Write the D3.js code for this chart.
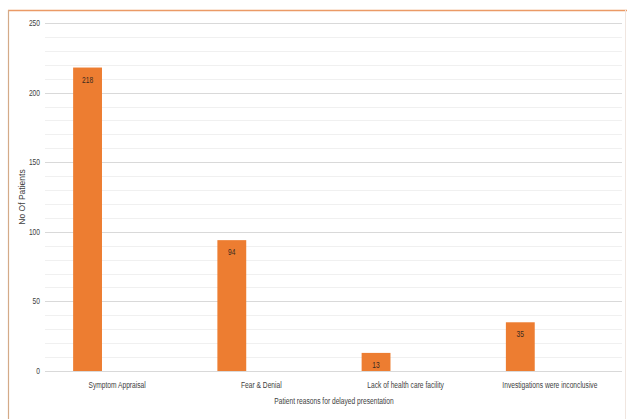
<!DOCTYPE html>
<html><head><meta charset="utf-8">
<script src="https://cdn.jsdelivr.net/npm/d3@7/dist/d3.min.js"></script>
<style>
body{margin:0;background:#fff;}
svg{display:block;}
text{font-family:"Liberation Sans","DejaVu Sans",sans-serif;}
</style></head>
<body>
<script>
const categories = ["Symptom Appraisal","Fear & Denial","Lack of health care facility","Investigations were inconclusive"];
const values = [218, 94, 13, 35];
const majorTicks = [0, 50, 100, 150, 200, 250];
const minorTicks = [10,20,30,40,60,70,80,90,110,120,130,140,160,170,180,190,210,220,230,240];

(function(){
const W = 627, H = 419;
const SX = 0.74; // narrow-font look
const svg = d3.select("body").append("svg").attr("width", W).attr("height", H);

svg.append("rect").attr("x",0).attr("y",0).attr("width",W).attr("height",H).attr("fill","#fff");
svg.append("line").attr("x1",8).attr("x2",W).attr("y1",10.5).attr("y2",10.5).attr("stroke","#eb9a66").attr("stroke-width",1.5);
svg.append("line").attr("x1",8.5).attr("x2",8.5).attr("y1",10).attr("y2",H).attr("stroke","#d4aa88").attr("stroke-width",1.2);
svg.append("line").attr("x1",625.5).attr("x2",625.5).attr("y1",10).attr("y2",H).attr("stroke","#f0e6e0").attr("stroke-width",1);

const pL = 45, pR = 622, pT = 23, pB = 371;
const x = d3.scaleBand().domain(categories).range([pL, pR]).padding(0);
const y = d3.scaleLinear().domain([0, 250]).range([pB, pT]);

const g = svg.append("g");
g.selectAll("line.minor").data(minorTicks).join("line").attr("class","minor")
  .attr("x1",pL).attr("x2",pR).attr("y1",d=>Math.round(y(d))+0.5).attr("y2",d=>Math.round(y(d))+0.5)
  .attr("stroke","#f0f0f0").attr("stroke-width",1);
g.selectAll("line.major").data(majorTicks).join("line").attr("class","major")
  .attr("x1",pL).attr("x2",pR).attr("y1",d=>Math.round(y(d))+0.5).attr("y2",d=>Math.round(y(d))+0.5)
  .attr("stroke","#d9d9d9").attr("stroke-width",1.2);

function ctext(sel, px, py, anchor, size, fill){
  return sel.append("text")
    .attr("transform", `translate(${px},${py}) scale(${SX},1)`)
    .attr("text-anchor", anchor).attr("font-size", size).attr("fill", fill);
}

majorTicks.forEach(d => ctext(g, 40, y(d)+3, "end", 9, "#404040").text(d));

const bx = d => x(d) + x.bandwidth()*0.195;
const bw = x.bandwidth()*0.2;
const data = categories.map((c,i)=>({c, v: values[i]}));
g.selectAll("rect.bar").data(data).join("rect").attr("class","bar")
  .attr("x",d=>bx(d.c)).attr("width",bw)
  .attr("y",d=>y(d.v)).attr("height",d=>pB - y(d.v))
  .attr("fill","#ed7d31");
data.forEach(d => ctext(g, bx(d.c)+bw/2, y(d.v)+15, "middle", 9, "#3a2a20").text(d.v));

categories.forEach(c => ctext(g, x(c)+x.bandwidth()/2, 388, "middle", 9, "#404040").text(c));

ctext(svg, 334, 404, "middle", 9, "#404040").text("Patient  reasons for delayed presentation");
svg.append("text").attr("transform","translate(25,197) rotate(-90)").attr("text-anchor","middle")
  .attr("font-size",8.5).attr("fill","#404040").text("No Of Patients");
})();
</script>
</body></html>
